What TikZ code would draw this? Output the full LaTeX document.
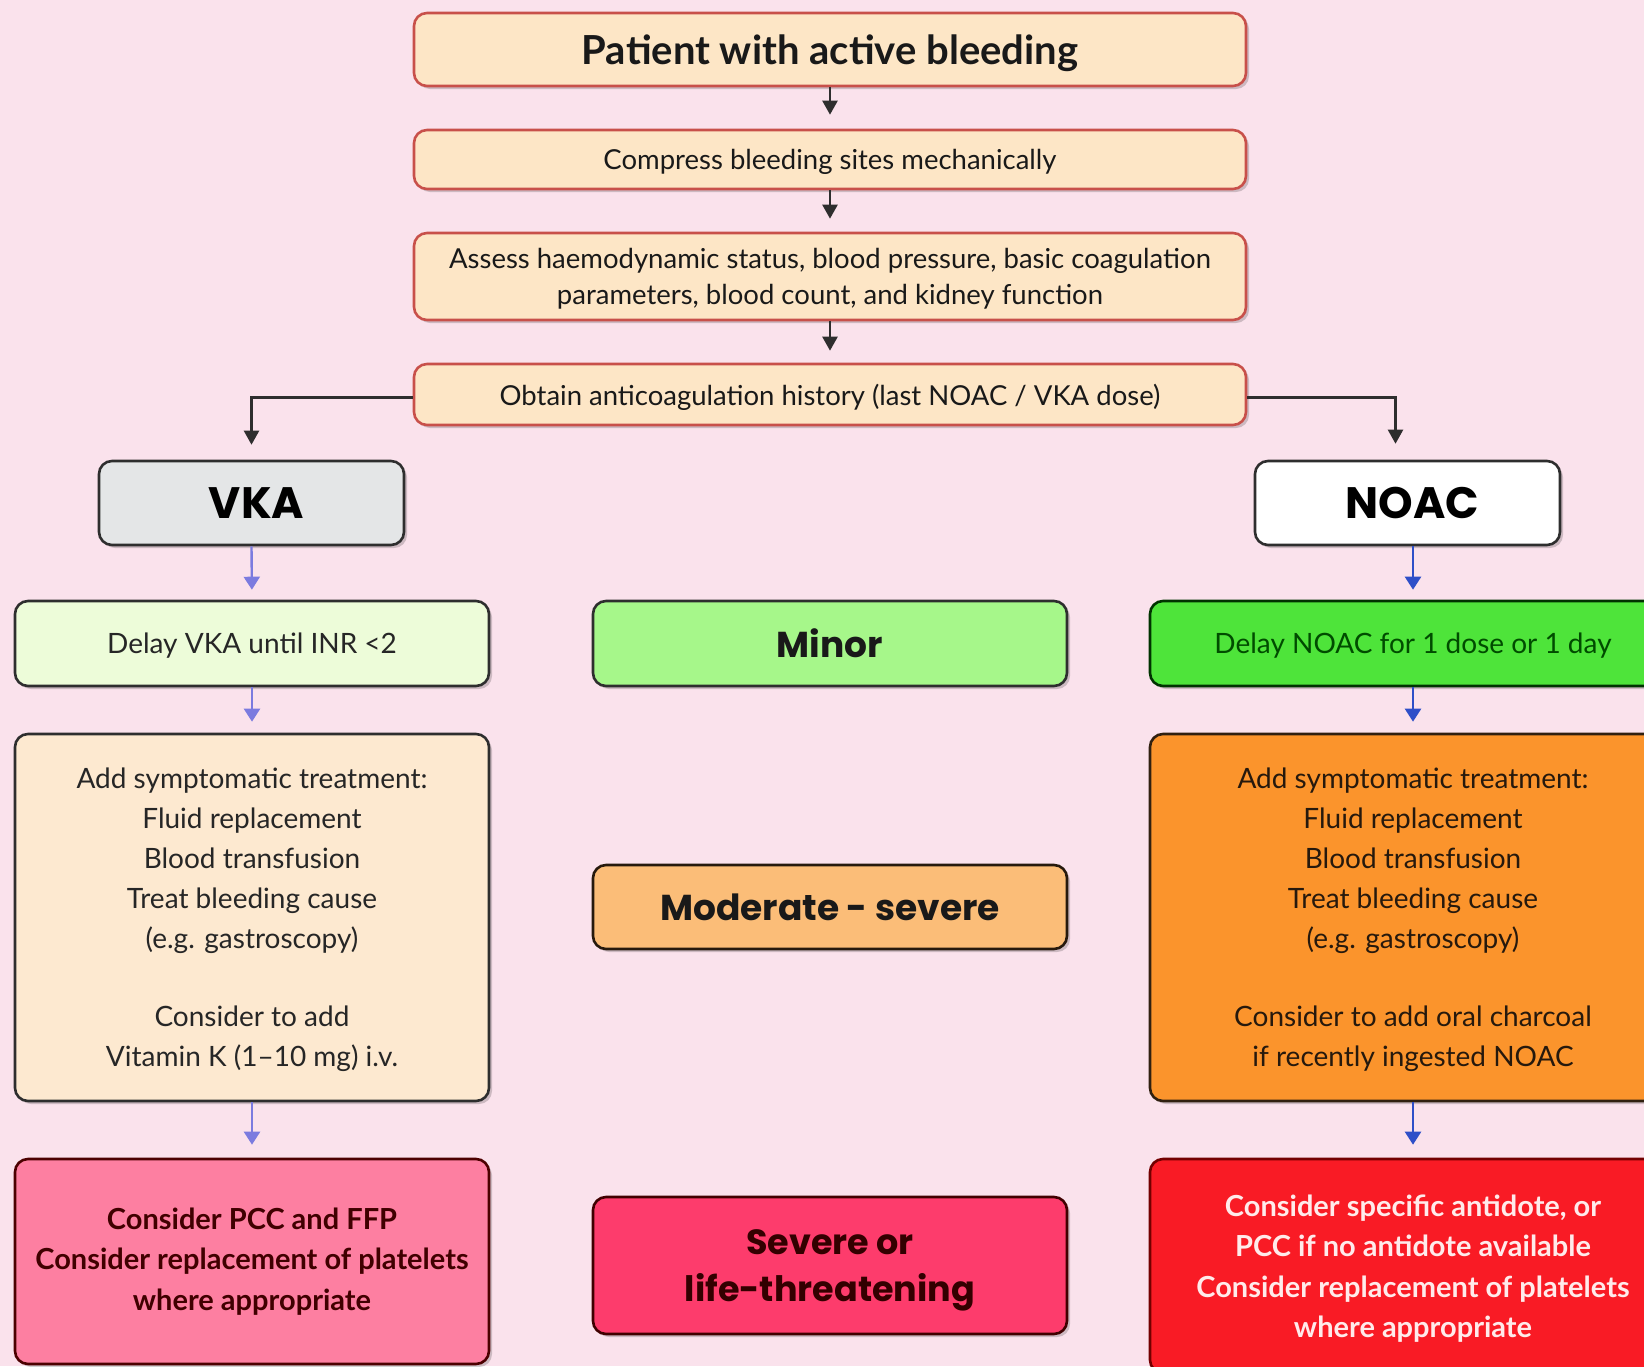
\documentclass[tikz,border=0pt]{standalone}
\usepackage{fontspec}
\usetikzlibrary{arrows.meta,shadows}
\newfontfamily\gill{Lato}
\newfontfamily\heavy{Poppins}
\definecolor{bgpink}{HTML}{FAE2EC}
\definecolor{peach}{HTML}{FDE6C6}
\definecolor{peachborder}{HTML}{C8504A}
\definecolor{vkagray}{HTML}{E4E6E7}
\definecolor{palegreen}{HTML}{EDFCD9}
\definecolor{minorgreen}{HTML}{A6F78A}
\definecolor{brightgreen}{HTML}{4EE43A}
\definecolor{cream}{HTML}{FDE9D0}
\definecolor{modorange}{HTML}{FBBD78}
\definecolor{orange}{HTML}{FB942C}
\definecolor{rosepink}{HTML}{FD7FA1}
\definecolor{sevpink}{HTML}{FD3C6C}
\definecolor{brightred}{HTML}{F91B25}
\definecolor{darkline}{HTML}{2E2E2E}
\definecolor{lightblue}{HTML}{7B7BDF}
\definecolor{darkblue}{HTML}{2E4FC8}
\tikzset{
  basebox/.style={rectangle, rounded corners=13pt, line width=2.6pt, inner sep=0pt, align=center,
    drop shadow={shadow xshift=3pt, shadow yshift=-3pt, opacity=0.18, fill=black}},
  topbox/.style={basebox, fill=peach, draw=peachborder, minimum width=832pt, text=black!90,
    font=\gill\fontsize{27.5}{36}\selectfont, text depth=0pt},
  darkbox/.style={basebox, draw=darkline},
  headtxt/.style={font=\heavy\bfseries\fontsize{44}{50}\selectfont},
  cattxt/.style={font=\heavy\bfseries\fontsize{36}{47}\selectfont},
  bodytxt/.style={font=\gill\fontsize{28}{40}\selectfont},
  boldtxt/.style={font=\gill\bfseries\fontsize{29}{40.5}\selectfont},
  blackarrow/.style={draw=black!82, line width=2.3pt, -{Triangle[width=15pt,length=14pt]}},
  vkaarrow/.style={draw=lightblue, line width=2.4pt, -{Triangle[width=16pt,length=13pt]}},
  noacarrow/.style={draw=darkblue, line width=2.4pt, -{Triangle[width=16pt,length=13pt]}}
}
\begin{document}
\begin{tikzpicture}[x=1pt, y=-1pt]
\clip (0,0) rectangle (1644,1366);
\useasboundingbox (0,0) rectangle (1644,1366);
\fill[bgpink] (0,0) rectangle (1644,1366);

% top chain
\node[topbox, minimum height=73pt, font=\gill\bfseries\fontsize{40}{44}\selectfont, text depth=-1pt] (b1) at (830,49.5) {Patient with active bleeding};
\node[topbox, minimum height=59pt] (b2) at (830,159.5) {Compress bleeding sites mechanically};
\node[topbox, minimum height=87pt] (b3) at (830,276.5) {Assess haemodynamic status, blood pressure, basic coagulation\\parameters, blood count, and kidney function};
\node[topbox, minimum height=61pt] (b4) at (830,394.5) {Obtain anticoagulation history (last NOAC / VKA dose)};

% branch heads
\node[darkbox, fill=vkagray, minimum width=305pt, minimum height=84pt, headtxt] (vka) at (251.5,503) {\hspace*{10pt}VKA};
\node[darkbox, fill=white, minimum width=305pt, minimum height=84pt, headtxt] (noac) at (1407.5,503) {\hspace*{10pt}NOAC};

% row 1
\node[darkbox, fill=palegreen, minimum width=474pt, minimum height=85pt, bodytxt, text=black!85, text depth=-12pt] (dvka) at (252,643.5) {Delay VKA until INR <2};
\node[darkbox, fill=minorgreen, minimum width=474pt, minimum height=85pt, cattxt, text=black!90] (minor) at (830,643.5) {Minor};
\node[darkbox, draw=black!80!green, fill=brightgreen, minimum width=526pt, minimum height=85pt, bodytxt, text=black!70!green, text depth=-12pt] (dnoac) at (1413,643.5) {Delay NOAC for 1 dose or 1 day};

% row 2
\node[darkbox, fill=cream, minimum width=474pt, minimum height=367pt, bodytxt, text=black!85, text depth=-15pt] (addvka) at (252,917.5) {Add symptomatic treatment:\\Fluid replacement\\Blood transfusion\\Treat bleeding cause\\(e.g. gastroscopy)\\[38pt]Consider to add\\Vitamin K (1–10 mg) i.v.};
\node[darkbox, draw=black!80!brown, fill=modorange, minimum width=474pt, minimum height=84pt, cattxt, text=black!90] (mod) at (830,907) {Moderate - severe};
\node[darkbox, draw=black!75!brown, fill=orange, minimum width=526pt, minimum height=367pt, bodytxt, text=black!80!brown, text depth=-15pt] (addnoac) at (1413,917.5) {Add symptomatic treatment:\\Fluid replacement\\Blood transfusion\\Treat bleeding cause\\(e.g. gastroscopy)\\[38pt]Consider to add oral charcoal\\if recently ingested NOAC};

% row 3
\node[darkbox, draw=black!70!red, fill=rosepink, minimum width=474pt, minimum height=205pt, boldtxt, text=black!75!red] (pcc) at (252,1261.5) {Consider PCC and FFP\\Consider replacement of platelets\\where appropriate};
\node[darkbox, draw=black!75!red, fill=sevpink, minimum width=474pt, minimum height=137pt, font=\heavy\bfseries\fontsize{35}{47}\selectfont, text=black!80!red, text depth=-6pt] (sev) at (830,1265.5) {Severe or\\life-threatening};
\node[darkbox, draw=black!55!red, fill=brightred, minimum width=526pt, minimum height=214pt, boldtxt, text=red!8, text depth=-3pt] (anti) at (1413,1266) {Consider specific antidote, or\\PCC if no antidote available\\Consider replacement of platelets\\where appropriate};

% connectors
\draw[blackarrow, shorten >=14pt] (b1.south) -- (b2.north);
\draw[blackarrow, shorten >=13pt] (b2.south) -- (b3.north);
\draw[blackarrow, shorten >=12pt] (b3.south) -- (b4.north);
\draw[blackarrow, shorten >=15pt] ([yshift=-3pt]b4.west) -| (vka.north);
\draw[blackarrow, shorten >=16pt] ([yshift=-3pt]b4.east) -| ([xshift=-12pt]noac.north);

\draw[vkaarrow, shorten >=10pt] (vka.south) -- (dvka.north);
\draw[vkaarrow, shorten >=11pt] (dvka.south) -- (addvka.north);
\draw[vkaarrow, shorten >=13pt] (addvka.south) -- (pcc.north);
\draw[noacarrow, shorten >=10pt] (dnoac.north |- noac.south) -- (dnoac.north);
\draw[noacarrow, shorten >=11pt] (dnoac.south) -- (addnoac.north);
\draw[noacarrow, shorten >=13pt] (addnoac.south) -- (anti.north);
\end{tikzpicture}
\end{document}
